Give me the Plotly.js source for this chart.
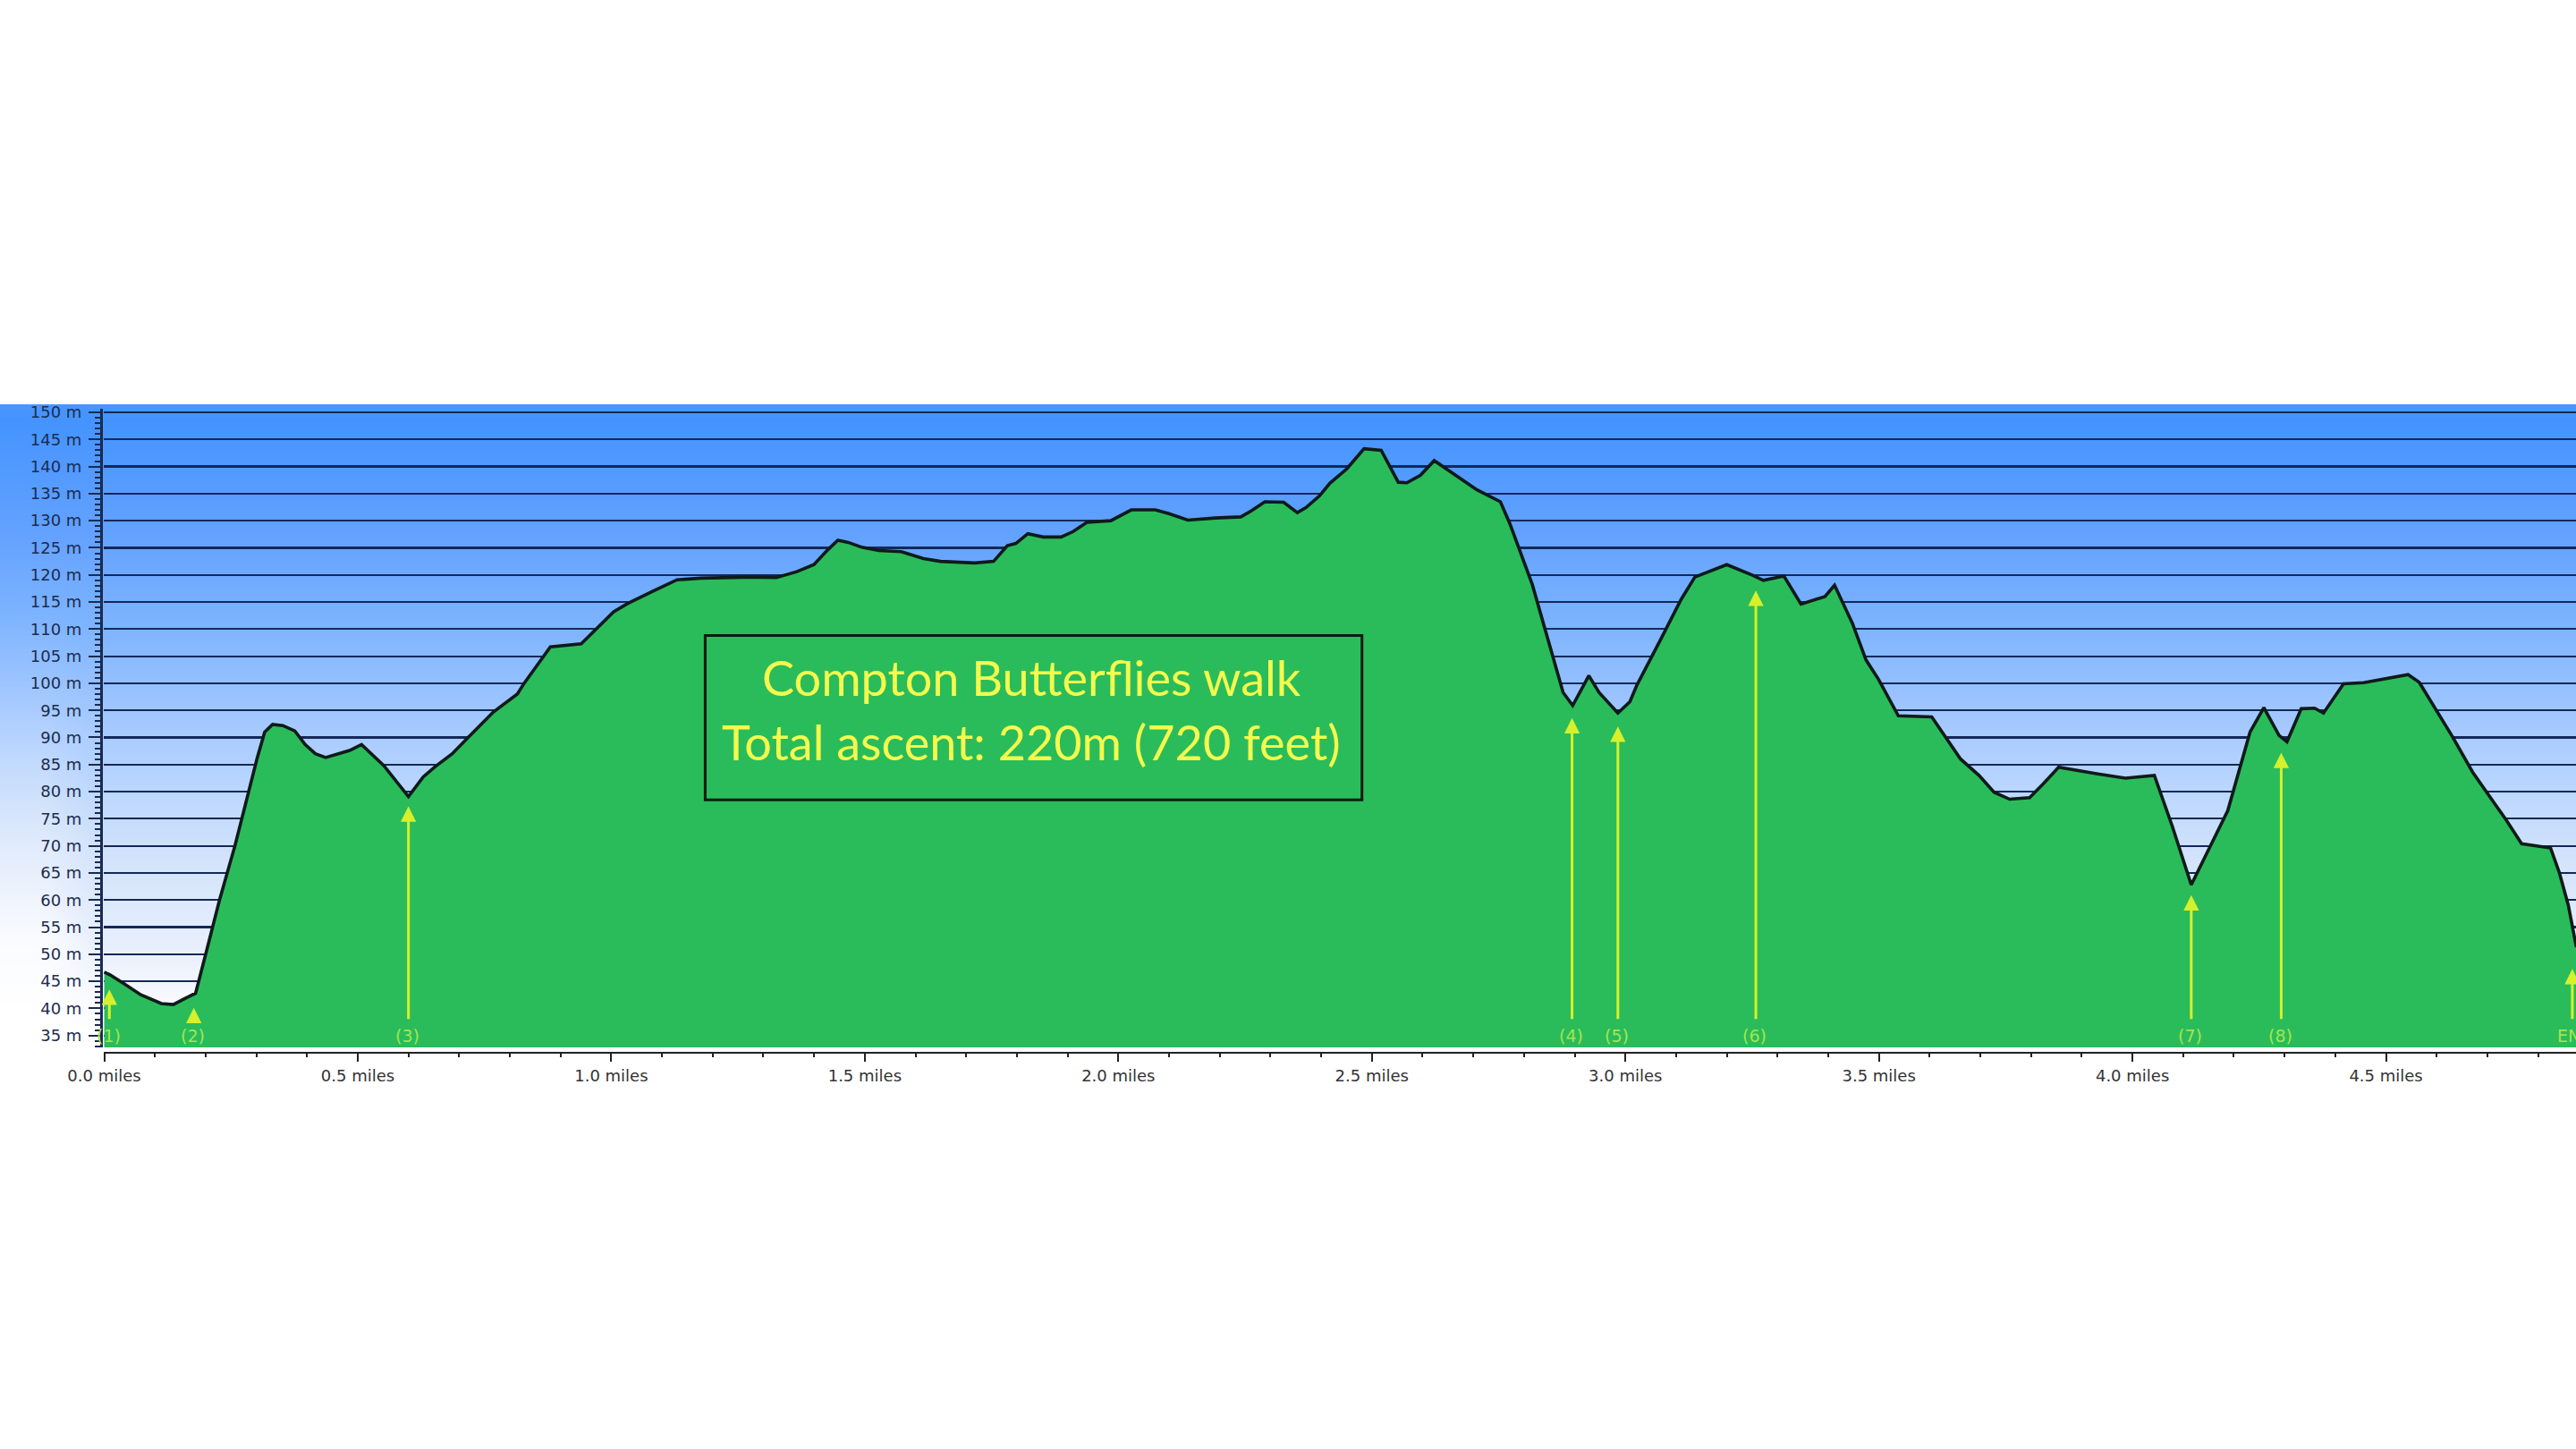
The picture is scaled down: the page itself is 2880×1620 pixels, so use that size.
<!DOCTYPE html>
<html><head><meta charset="utf-8">
<script src="https://cdn.plot.ly/plotly-3.0.1.min.js"></script>
<style>html,body{margin:0;padding:0;background:#fff;overflow:hidden}</style>
</head><body><div id="chart" style="width:2880px;height:1620px"></div>
<script>
const miles = [0,.0114,.0384,.0722,.1127,.1363,.1565,.1802,.2004,.2274,.2578,.2713,.2848,.3017,.3165,.332,.3523,.3759,.3962,.4164,.4367,.4569,.4839,.5075,.5514,.6,.629,.6527,.6864,.7168,.7674,.8147,.8282,.8799,.9407,1.0048,1.0318,1.0824,1.1297,1.1769,1.2782,1.3254,1.3659,1.3997,1.4267,1.4469,1.4672,1.4941,1.5279,1.5718,1.6157,1.6494,1.7169,1.754,1.7811,1.7979,1.8215,1.8519,1.8872,1.9109,1.9379,1.9851,2.0256,2.0729,2.0999,2.137,2.191,2.2416,2.2619,2.2889,2.326,2.353,2.3699,2.3969,2.4171,2.4509,2.4846,2.5184,2.5521,2.569,2.596,2.623,2.6432,2.6736,2.7074,2.7535,2.772,2.8165,2.8401,2.8604,2.8772,2.8961,2.911,2.9279,2.9481,2.9852,3.0089,3.0224,3.0696,3.1101,3.1371,3.1641,3.2,3.2519,3.2721,3.3126,3.3464,3.3936,3.4125,3.4476,3.4746,3.4988,3.5383,3.6042,3.6366,3.6612,3.6973,3.7271,3.7578,3.7973,3.8237,3.8544,3.929,3.9861,4.0432,4.0783,4.116,4.188,4.2319,4.2592,4.289,4.3048,4.3329,4.3592,4.3768,4.4163,4.4558,4.4997,4.5436,4.5655,4.6314,4.6709,4.7368,4.7675,4.8246,4.8421,4.8597,4.8755];
const elevation = [46.7,46.2,44.6,42.5,40.9,40.7,41.7,42.8,50.1,60,70,75,80,86.2,91,92.4,92.2,91.2,88.7,87,86.3,86.8,87.6,88.7,84.8,79.1,82.7,84.6,87,89.9,94.7,98,100,106.7,107.3,113.2,114.7,117,119.1,119.4,119.6,119.5,120.6,121.9,124.6,126.4,126,125.1,124.5,124.3,123,122.5,122.2,122.5,125.4,125.8,127.6,127,127,128,129.7,130,132,132,131.3,130.1,130.5,130.7,131.8,133.5,133.4,131.5,132.4,134.6,136.9,139.6,143.3,143,137.1,137,138.4,141.1,139.8,137.9,135.7,133.5,129.5,118.2,110.6,103.7,98.3,95.9,98.6,101.4,98.3,94.5,96.6,99.6,108.1,115.5,119.6,120.6,121.9,119.9,119,119.8,114.6,116,118.1,111.1,104.3,100.8,94,93.8,89.5,86,83,79.9,78.6,78.9,81.4,84.5,83.3,82.5,83,73.7,62.8,76.5,91,95.5,90.4,89.2,95.3,95.4,94.5,99.9,100.1,100.8,101.6,100.2,90.1,83.6,74.8,70.4,69.6,65,59,51.3];

const markerLabels = ['(1)','(2)','(3)','(4)','(5)','(6)','(7)','(8)','END'];
const markerMiles  = [0.0102,0.1767,0.6,2.8948,2.9852,3.2573,4.116,4.2934,4.8675];
const markerTips   = [43.5,40.1,77.3,93.6,92,117.1,60.9,87.2,47.3];
const markerBase   = 37.8;
const labelLevel   = 35;

const yTicks = [35,40,45,50,55,60,65,70,75,80,85,90,95,100,105,110,115,120,125,130,135,140,145,150];
const xTicks = [0,0.5,1,1.5,2,2.5,3,3.5,4,4.5];
const titleLines = ['Compton Butterflies walk','Total ascent: 220m (720 feet)'];

// sky backdrop, top to bottom
const skyRows = [452,470,600,700,760,820,860,950,1050,1130,1171];
const skyMain = [.03,0,.2,.36,.46,.56,.62,.76,.88,.97,1];
const skyEdge = [.03,0,.2,.38,.5,.62,.7,.86,.97,1,1];
const skyCols = [0,50,115,2880];

const W=2880,H=1620;
const pxL=116, pxR=2880, pxT=457, pxB=1171;
const traces = [
 {type:'heatmap',x:skyCols,y:skyRows,z:skyRows.map((_,i)=>[skyEdge[i],skyEdge[i],skyMain[i],skyMain[i]]),
  xaxis:'x',yaxis:'y',zmin:0,zmax:1,zsmooth:'best',showscale:false,hoverinfo:'skip',
  colorscale:[[0,'#4494ff'],[.2,'#64a2ff'],[.36,'#7db4ff'],[.46,'#93bfff'],[.56,'#a8cbff'],[.62,'#b4d2ff'],[.76,'#d0e2fb'],[.88,'#e6eefc'],[.97,'#fafbff'],[1,'#ffffff']]},
 {type:'scatter',mode:'lines',x:miles,y:elevation,xaxis:'x2',yaxis:'y2',fill:'tozeroy',fillcolor:'#2abc5a',
  line:{color:'#101a1a',width:3.6},hoverinfo:'x+y'}
];
const annotations = [];
markerLabels.forEach((t,i)=>{
  annotations.push({xref:'x2',yref:'y2',axref:'x2',ayref:'y2',x:markerMiles[i],y:markerTips[i],ax:markerMiles[i],ay:markerBase,
    text:'',showarrow:true,arrowhead:2,arrowsize:1.15,arrowwidth:3,arrowcolor:'#d6f02c',standoff:0,startstandoff:0});
  const isEnd = t==='END';
  annotations.push({xref:'x2',yref:'y2',x:isEnd?4.834:markerMiles[i]-0.002,y:labelLevel,text:t,showarrow:false,
    xanchor:isEnd?'left':'center',yanchor:'middle',font:{family:'DejaVu Sans',size:19,color:'#a6e44e'}});
});
[[titleLines[0],101],[titleLines[1],89.1]].forEach(([t,v])=>{
  annotations.push({xref:'x2',yref:'y2',x:1.8286,y:v,text:t,showarrow:false,xanchor:'center',yanchor:'middle',
    font:{family:'Lato',size:54,color:'#f4fa4e'}});
});
const layout = {
 width:W,height:H,margin:{l:0,r:0,t:0,b:0,pad:0},paper_bgcolor:'#ffffff',plot_bgcolor:'rgba(0,0,0,0)',showlegend:false,
 xaxis:{domain:[0,1],range:[0,2880],visible:false,fixedrange:true},
 yaxis:{domain:[(H-1171)/H,(H-452)/H],range:[1171,452],visible:false,fixedrange:true},
 xaxis2:{domain:[pxL/W,1],range:[(pxL-116.5)/566.9,(pxR-116.5)/566.9],anchor:'free',position:(H-1177)/H,
   tickmode:'array',tickvals:xTicks,ticktext:xTicks.map(v=>v.toFixed(1)+' miles'),
   ticks:'outside',ticklen:9,tickwidth:2,tickcolor:'#222',showline:true,linecolor:'#222',linewidth:2,showgrid:false,zeroline:false,
   tickfont:{family:'DejaVu Sans',size:18,color:'#333'},
   minor:{dtick:0.1,tick0:0,ticks:'outside',ticklen:4,tickwidth:2,tickcolor:'#222',showgrid:false}},
 yaxis2:{domain:[(H-pxB)/H,(H-pxT)/H],range:[150-(pxB-461)/6.058,150-(pxT-461)/6.058],anchor:'free',position:113/W,
   tickmode:'array',tickvals:yTicks,ticktext:yTicks.map(v=>v+' m'),ticklabelstandoff:4,
   ticks:'outside',ticklen:13,tickwidth:2,tickcolor:'#1a2a50',showline:true,linecolor:'#1a2a50',linewidth:3,
   showgrid:true,gridcolor:'#14285a',gridwidth:2.2,zeroline:false,
   tickfont:{family:'DejaVu Sans',size:18,color:'#1c2c50'},
   minor:{dtick:1,tick0:0,ticks:'outside',ticklen:6,tickwidth:2,tickcolor:'#1a2a50',showgrid:false}},
 shapes:[{type:'rect',xref:'x2',yref:'y2',x0:1.1852,x1:2.4805,y0:78.5,y1:108.8,line:{color:'#0b1a12',width:3},fillcolor:'rgba(0,0,0,0)'}],
 annotations
};
Plotly.newPlot('chart',traces,layout,{displayModeBar:false,staticPlot:true});
</script></body></html>
